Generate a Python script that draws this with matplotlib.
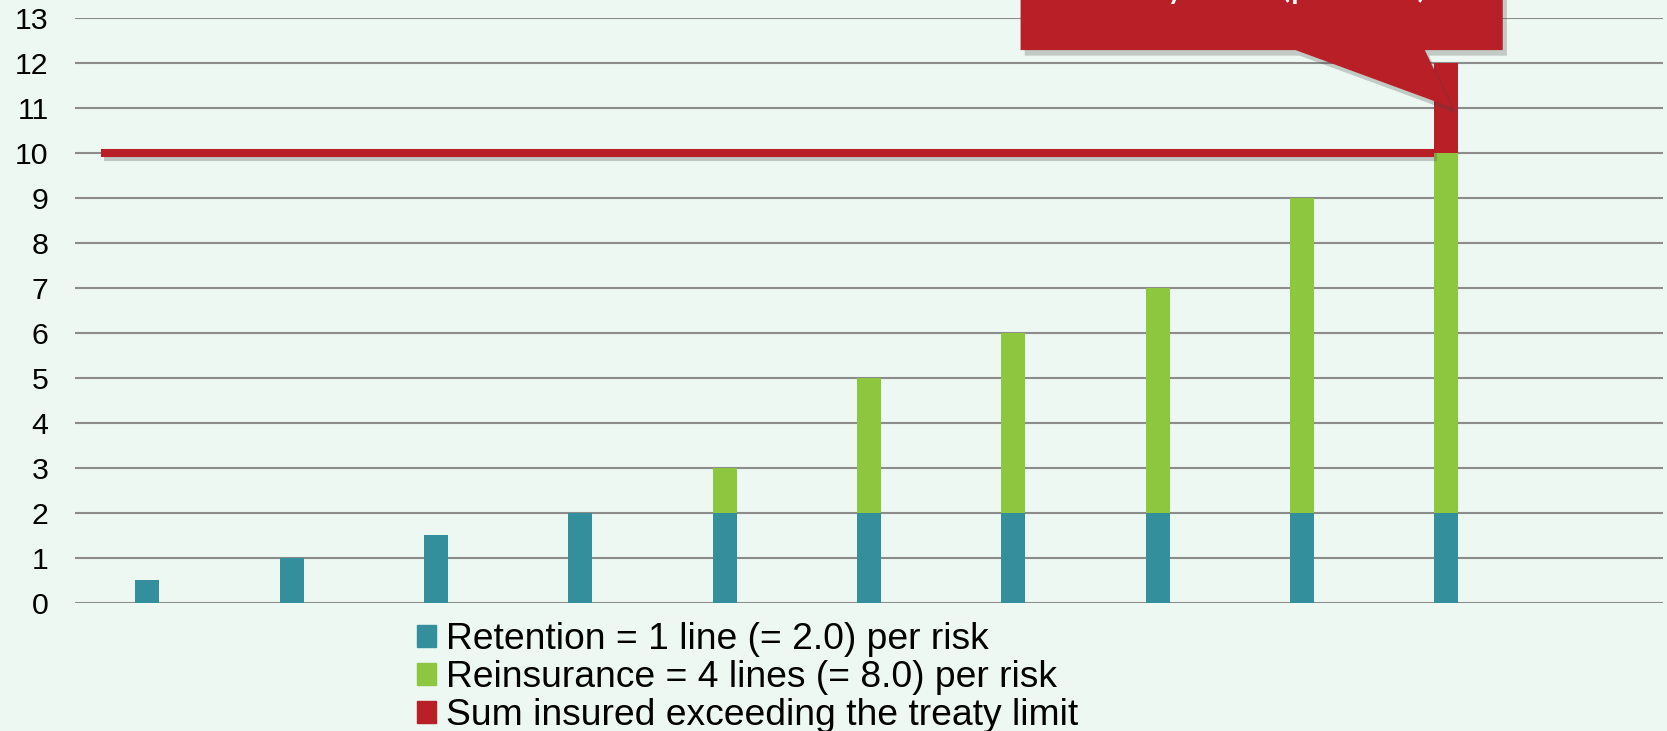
import matplotlib.pyplot as plt
import matplotlib.patheffects as pe
from matplotlib.patches import Patch, Polygon
import numpy as np

plt.rcParams["font.family"] = "Liberation Sans"

# sums insured per risk, split by who carries them
risks = np.arange(11)
retention = [0.5, 1, 1.5, 2, 2, 2, 2, 2, 2, 2, 0]
reinsurance = [0, 0, 0, 0, 1, 3, 4, 5, 7, 8, 0]
excess = [0, 0, 0, 0, 0, 0, 0, 0, 0, 2, 0]
treaty_limit = 10
labels = ["Retention = 1 line (= 2.0) per risk",
          "Reinsurance = 4 lines (= 8.0) per risk",
          "Sum insured exceeding the treaty limit"]
callout_text = "Treaty limit (per risk)"

bg = "#ECF8F1"
teal = "#348F9C"
green = "#8DC63F"
red = "#B81F27"

fig = plt.figure(figsize=(16.67, 7.31), dpi=100, facecolor=bg)
ax = fig.add_axes([75 / 1667, 1 - 602.7 / 731, 1588 / 1667, 585 / 731])
ax.set_facecolor(bg)

w = 0.166
ret = np.array(retention)
rein = np.array(reinsurance)
ax.bar(risks, ret, w, color=teal, zorder=3)
ax.bar(risks, rein, w, bottom=ret, color=green, zorder=3)
ax.bar(risks, excess, w, bottom=ret + rein, color=red, zorder=4)

# treaty limit line, running up to the last bar
last = int(np.nonzero(excess)[0][0])
ax.hlines(treaty_limit, -0.32, last - w / 2, color=red, linewidth=5.8,
          capstyle="butt", zorder=5,
          path_effects=[pe.SimpleLineShadow(offset=(2, -3), shadow_color="#555555", alpha=0.3),
                        pe.Normal()])

# callout pointing at the excess part
tip_x = last + 0.04
tip_y = treaty_limit + excess[last] / 2
bx0, bx1, by0, by1 = 6.05, 9.39, 12.28, 14.6
box = Polygon([(bx0, by0), (bx0, by1), (bx1, by1), (bx1, by0),
               (8.85, by0), (tip_x, tip_y), (7.955, by0)],
              closed=True, facecolor=red, edgecolor="none", zorder=6, clip_on=False,
              path_effects=[pe.SimplePatchShadow(offset=(3, -4), shadow_rgbFace="#444444", alpha=0.25),
                            pe.Normal()])
ax.add_patch(box)
ax.text(7.65, 13.47, callout_text, color="white", fontsize=28,
        family="Lato", ha="center", va="baseline", zorder=7, clip_on=False)

ax.set_xlim(-0.5, 10.5)
ax.set_ylim(0, 13)
ax.set_yticks(range(14))
ax.set_xticks([])
ax.grid(axis="y", color="#8C8C8C", linewidth=1.5, zorder=1)
ax.set_axisbelow(True)
for s in ax.spines.values():
    s.set_visible(False)
ax.tick_params(axis="y", length=0, pad=19, labelsize=21.8, labelcolor="black")

handles = [Patch(color=teal), Patch(color=green), Patch(color=red)]
fig.legend(handles, labels, loc="upper left", bbox_to_anchor=(0.2502, 0.149),
           frameon=False, handlelength=0.52, handleheight=0.52, handletextpad=0.27,
           labelspacing=0.08, borderpad=0, borderaxespad=0,
           prop={"family": "Liberation Sans", "size": 26.8})

fig.savefig("out.png", dpi=100, facecolor=bg)
